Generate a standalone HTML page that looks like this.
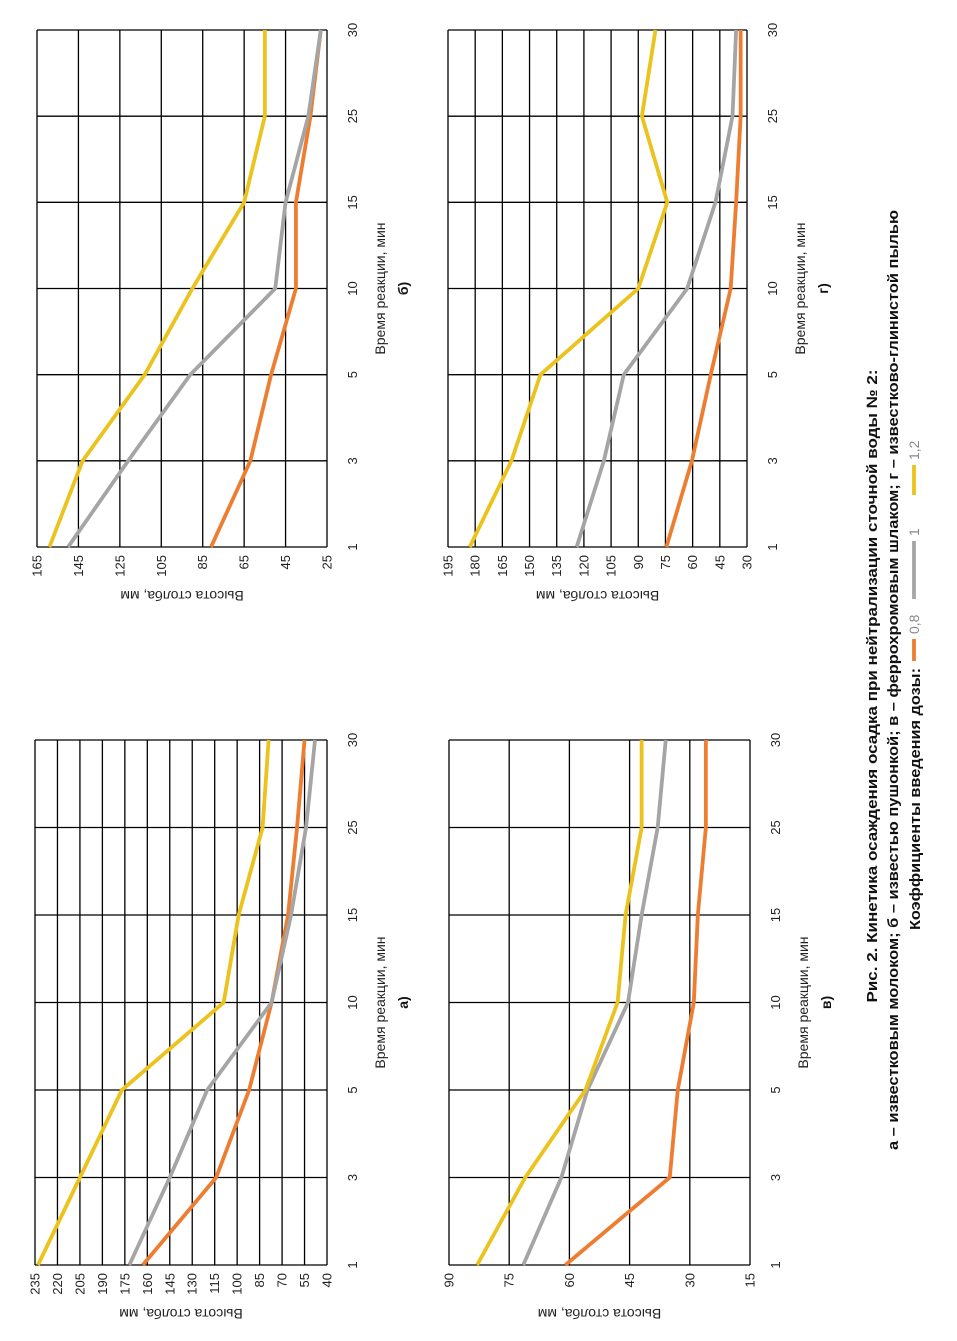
<!DOCTYPE html>
<html><head><meta charset="utf-8"><style>
html,body{margin:0;padding:0;background:#fff;width:957px;height:1341px;overflow:hidden}
svg text{font-family:"Liberation Sans",sans-serif}
</style></head><body>
<svg id="root" width="957" height="1341" viewBox="0 0 957 1341">
<g id="land" transform="translate(0,1341) rotate(-90)"></g>
</svg>
<script>
const categories = ["1","3","5","10","15","25","30"];
const a_s08 = [163,114,92,77,66,60,55];
const a_s1  = [172,145,120,77,64,54,48];
const a_s12 = [233,205,177,109,99,83,79];
const a_ticks = [235,220,205,190,175,160,145,130,115,100,85,70,55,40];
const b_s08 = [81,62,52,40,40,33,28];
const b_s1  = [150,121,91,50,45,34,28];
const b_s12 = [159,143,113,90,65,55,55];
const b_ticks = [165,145,125,105,85,65,45,25];
const v_s08 = [61,35,33,29,28,26,26];
const v_s1  = [71.5,62,55.5,45.4,42,38,36];
const v_s12 = [83,71,56,48,46,42,42];
const v_ticks = [90,75,60,45,30,15];
const g_s08 = [74.5,60.4,50,39,36,33.5,33.5];
const g_s1  = [124,109,98,63,47.4,38,36];
const g_s12 = [183,160,144,90,74,88,80.5];
const g_ticks = [195,180,165,150,135,120,105,90,75,60,45,30];
const seriesNames = ["0,8","1","1,2"];
const colors = ["#ED7D31","#A5A5A5","#EBC31C"];

const NS="http://www.w3.org/2000/svg";
const land=document.getElementById('land');
function mk(tag,attrs,parent){const e=document.createElementNS(NS,tag);for(const k in attrs)e.setAttribute(k,attrs[k]);(parent||land).appendChild(e);return e;}

function chart(key,x0,x1,y0,y1,ticks,series,letter){
  const g=mk('g',{});
  
  
  const vmax=ticks[0],vmin=ticks[ticks.length-1];
  const yS=v=>y0+(vmax-v)/(vmax-vmin)*(y1-y0);
  const xS=i=>x0+i*(x1-x0)/(categories.length-1);
  ticks.forEach(t=>{
    const l=mk('line',{x1:x0,x2:x1,y1:yS(t),y2:yS(t),stroke:'#000','stroke-width':1.3},g);
    
    
    const tx=mk('text',{x:x0-8,y:yS(t)+4.5,'text-anchor':'end','font-size':13,fill:'#222'},g);
    tx.textContent=t;
    
    
  });
  categories.forEach((c,i)=>{
    const l=mk('line',{x1:xS(i),x2:xS(i),y1:y0,y2:y1,stroke:'#000','stroke-width':1.3},g);
    
    
    const tx=mk('text',{x:xS(i),y:y1+30,'text-anchor':'middle','font-size':13,fill:'#222'},g);
    tx.textContent=c;
    
    
  });
  series.forEach((s,k)=>{
    const p=mk('polyline',{points:s.map((v,i)=>xS(i)+','+yS(v)).join(' '),fill:'none',stroke:colors[k],'stroke-width':3.8,'stroke-linejoin':'round'},g);
    
    
  });
  const cx=(x0+x1)/2;
  const xt=mk('text',{x:cx,y:y1+58,'text-anchor':'middle','font-size':14,fill:'#222'},g);
  xt.textContent='Время реакции, мин';
  
  
  const lt=mk('text',{x:cx,y:y1+81,'text-anchor':'middle','font-size':14,'font-weight':'bold',fill:'#111'},g);
  lt.textContent=letter;
  
  
  const ym=(y0+y1)/2;
  const yt=mk('text',{x:x0-44,y:ym,'text-anchor':'middle','font-size':14,fill:'#222',transform:'rotate(-90 '+(x0-44)+' '+ym+')'},g);
  yt.textContent='Высота столба, мм';
  
  
}
chart('a',76,601,35,327,a_ticks,[a_s08,a_s1,a_s12],'а)');
chart('b',794,1311,37,327,b_ticks,[b_s08,b_s1,b_s12],'б)');
chart('v',76,601,449,750,v_ticks,[v_s08,v_s1,v_s12],'в)');
chart('g',794,1311,448,747,g_ticks,[g_s08,g_s1,g_s12],'г)');

const c1=mk('text',{x:655,y:877,'text-anchor':'middle','font-size':15,'font-weight':'bold',fill:'#111',textLength:633,lengthAdjust:'spacingAndGlyphs'});
c1.textContent='Рис. 2. Кинетика осаждения осадка при нейтрализации сточной воды № 2:';


const c2=mk('text',{x:661,y:898,'text-anchor':'middle','font-size':15,'font-weight':'bold',fill:'#111',textLength:940,lengthAdjust:'spacingAndGlyphs'});
c2.textContent='а – известковым молоком; б – известью пушонкой; в – феррохромовым шлаком; г – известково-глинистой пылью';


const c3=mk('text',{x:411,y:920,'font-size':15,'font-weight':'bold',fill:'#111',textLength:262,lengthAdjust:'spacingAndGlyphs'});
c3.textContent='Коэффициенты введения дозы:';


const legX=[680,742,846];
const legLen=[22,58,30];
seriesNames.forEach((n,k)=>{
  const lx=legX[k];
  const l=mk('line',{x1:lx,x2:lx+legLen[k],y1:914,y2:914,stroke:colors[k],'stroke-width':3.8});
  
  
  const t=mk('text',{x:lx+legLen[k]+5,y:919,'font-size':14,fill:'#888'});
  t.textContent=n;
  
  
});
</script>
</body></html>
